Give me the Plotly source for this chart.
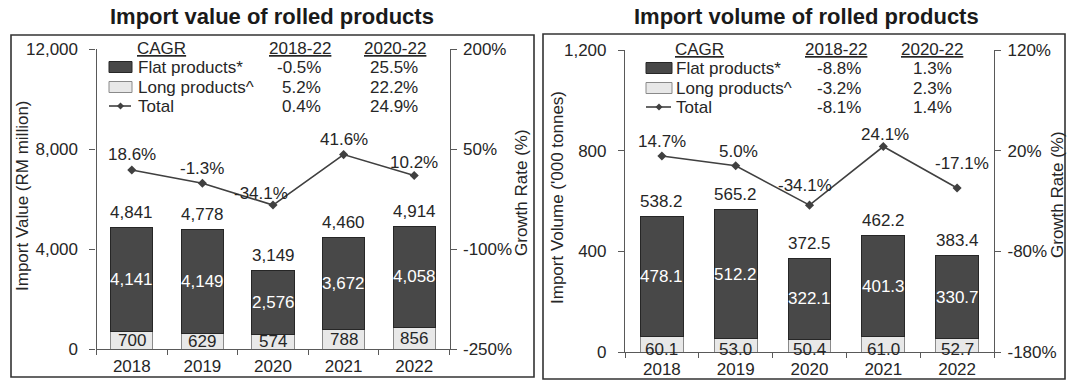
import plotly.graph_objects as go

# ---- data -------------------------------------------------------------
years = ["2018", "2019", "2020", "2021", "2022"]

value_flat = [4141, 4149, 2576, 3672, 4058]
value_long = [700, 629, 574, 788, 856]
value_total = [4841, 4778, 3149, 4460, 4914]
value_growth = [18.6, -1.3, -34.1, 41.6, 10.2]

volume_flat = [478.1, 512.2, 322.1, 401.3, 330.7]
volume_long = [60.1, 53.0, 50.4, 61.0, 52.7]
volume_total = [538.2, 565.2, 372.5, 462.2, 383.4]
volume_growth = [14.7, 5.0, -34.1, 24.1, -17.1]

cagr_periods = ["2018-22", "2020-22"]
cagr_rows = ["Flat products*", "Long products^", "Total"]
value_cagr = [["-0.5%", "25.5%"], ["5.2%", "22.2%"], ["0.4%", "24.9%"]]
volume_cagr = [["-8.8%", "1.3%"], ["-3.2%", "2.3%"], ["-8.1%", "1.4%"]]

value_ticks = [0, 4000, 8000, 12000]
value_growth_ticks = [-250, -100, 50, 200]
volume_ticks = [0, 400, 800, 1200]
volume_growth_ticks = [-180, -80, 20, 120]

# ---- style ------------------------------------------------------------
W, H = 1068, 381
FONT = "Liberation Sans, Arial, sans-serif"
TXT = "#262626"
AX = "#595959"
DARK = "#484848"
LIGHT = "#e8e8e8"
LINE = "#404040"
FS = 17


def px(x):
    return x / W


def py(y):
    return 1 - y / H


fig = go.Figure()
annotations = []
shapes = []


def note(**kw):
    kw.setdefault("showarrow", False)
    kw.setdefault("xanchor", "center")
    kw.setdefault("yanchor", "middle")
    kw.setdefault("font", dict(family=FONT, size=FS, color=TXT))
    annotations.append(kw)


def panel(n, flat, long_, total, growth, ticks, gticks, xdom, ybot, ytop,
          barw, ytitle, cagr, leg, long_inside, nudges, title, title_x,
          box, ytitle_x, gtitle_x, valfmt):
    xa = "xaxis" if n == 1 else "xaxis%d" % n
    ya_id = 2 * n - 1
    yb_id = 2 * n
    ya = "yaxis" if ya_id == 1 else "yaxis%d" % ya_id
    yb = "yaxis%d" % yb_id
    xr = "x" if n == 1 else "x%d" % n
    yr = "y" if ya_id == 1 else "y%d" % ya_id
    yr2 = "y%d" % yb_id
    pos = list(range(len(years)))

    fig.add_trace(go.Bar(x=pos, y=long_, xaxis=xr, yaxis=yr, width=barw,
                         marker=dict(color=LIGHT, line=dict(color="#8a8a8a", width=1)),
                         showlegend=False, hoverinfo="skip"))
    fig.add_trace(go.Bar(x=pos, y=flat, xaxis=xr, yaxis=yr, width=barw,
                         marker=dict(color=DARK, line=dict(color="#262626", width=1)),
                         showlegend=False, hoverinfo="skip"))
    fig.add_trace(go.Scatter(x=pos, y=growth, xaxis=xr, yaxis=yr2,
                             mode="lines+markers",
                             line=dict(color=LINE, width=1.6),
                             marker=dict(symbol="diamond", size=7, color=LINE),
                             showlegend=False, hoverinfo="skip"))

    axis_common = dict(showgrid=False, zeroline=False, showline=True,
                       linecolor=AX, linewidth=1.2, ticks="outside",
                       tickcolor=AX, tickwidth=1.2, automargin=False,
                       tickfont=dict(family=FONT, size=FS, color=TXT))
    bounds = [p - 0.5 for p in pos] + [pos[-1] + 0.5]
    fig.update_layout(**{
        xa: dict(axis_common, domain=xdom, anchor=yr, range=[-0.5, len(years) - 0.5],
                 tickvals=pos, ticktext=years, ticks="", ticklabelstandoff=1,
                 minor=dict(tickvals=bounds, ticks="outside", ticklen=5,
                            tickcolor=AX, tickwidth=1.2, showgrid=False)),
        ya: dict(axis_common, domain=[py(ybot), py(ytop)], anchor=xr,
                 range=[ticks[0], ticks[-1]], tickvals=ticks,
                 ticktext=[f"{t:,}" for t in ticks], ticklen=6, ticklabelstandoff=8),
        yb: dict(axis_common, overlaying=yr, side="right", anchor=xr,
                 range=[gticks[0], gticks[-1]], tickvals=gticks,
                 ticktext=[f"{t}%" for t in gticks], ticklen=6, ticklabelstandoff=3),
    })

    # value labels
    for i in pos:
        note(x=i, y=total[i], xref=xr, yref=yr, text=format(total[i], valfmt), yshift=15)
        note(x=i, y=long_[i] + flat[i] / 2, xref=xr, yref=yr,
             text=format(flat[i], valfmt), font=dict(family=FONT, size=FS, color="white"))
        if long_inside:
            note(x=i, y=long_[i] / 2, xref=xr, yref=yr, text=format(long_[i], valfmt))
        else:
            note(x=i, y=0, xref=xr, yref=yr, text=format(long_[i], valfmt), yshift=3)
        dx, dy = nudges.get(i, (0, 15))
        note(x=i, y=growth[i], xref=xr, yref=yr2, text=f"{growth[i]:.1f}%",
             xshift=dx, yshift=dy)

    # CAGR table
    sw_x0, sw_x1, txt_x, c1_mid, c1_r, c2_mid, c2_r, top = leg
    hdr_y = top - 1
    rows_y = [top + 18, top + 38, top + 57]
    note(x=px(txt_x - 1), y=py(hdr_y), xref="paper", yref="paper",
         xanchor="left", text="<u>CAGR</u>")
    for mid, p in zip([c1_mid, c2_mid], cagr_periods):
        note(x=px(mid), y=py(hdr_y), xref="paper", yref="paper", text=f"<u>{p}</u>")
    for r, (name, ry) in enumerate(zip(cagr_rows, rows_y)):
        note(x=px(txt_x), y=py(ry), xref="paper", yref="paper", xanchor="left", text=name)
        for c, right in enumerate([c1_r, c2_r]):
            note(x=px(right), y=py(ry), xref="paper", yref="paper",
                 xanchor="right", text=cagr[r][c])
    for (fill, edge), ry in zip([(DARK, "#262626"), (LIGHT, "#8a8a8a")], rows_y[:2]):
        shapes.append(dict(type="rect", xref="paper", yref="paper",
                           x0=px(sw_x0), x1=px(sw_x1), y0=py(ry - 5.5), y1=py(ry + 5.5),
                           fillcolor=fill, line=dict(color=edge, width=1)))
    ly = rows_y[2]
    shapes.append(dict(type="line", xref="paper", yref="paper",
                       x0=px(sw_x0), x1=px(sw_x1 - 1), y0=py(ly), y1=py(ly),
                       line=dict(color=LINE, width=1.6)))
    cx = (sw_x0 + sw_x1) / 2
    shapes.append(dict(type="path", xref="paper", yref="paper",
                       path=(f"M {px(cx - 3.5)},{py(ly)} L {px(cx)},{py(ly - 3.5)} "
                             f"L {px(cx + 3.5)},{py(ly)} L {px(cx)},{py(ly + 3.5)} Z"),
                       fillcolor=LINE, line=dict(color=LINE, width=0)))

    # titles, axis titles, frame
    note(x=px(title_x), y=py(17), xref="paper", yref="paper", text=f"<b>{title}</b>",
         font=dict(family=FONT, size=22, color="#1a1a1a"))
    mid_y = (ybot + ytop) / 2
    note(x=px(ytitle_x), y=py(mid_y - 3), xref="paper", yref="paper",
         text=ytitle, textangle=-90)
    note(x=px(gtitle_x), y=py(mid_y - 6), xref="paper", yref="paper",
         text="Growth Rate (%)", textangle=-90)
    bx0, by0, bx1, by1 = box
    shapes.append(dict(type="rect", xref="paper", yref="paper",
                       x0=px(bx0), x1=px(bx1), y0=py(by0), y1=py(by1),
                       line=dict(color="#333333", width=1.6)))


panel(1, value_flat, value_long, value_total, value_growth,
      value_ticks, value_growth_ticks,
      xdom=[px(96.5), px(449.5)], ybot=349, ytop=49, barw=0.6,
      ytitle="Import Value (RM million)", cagr=value_cagr,
      leg=(109, 132, 136, 299.5, 323, 395, 420, 49),
      long_inside=True, nudges={2: (-12, 12), 4: (0, 13.5)},
      title="Import value of rolled products", title_x=272,
      box=(11, 35, 534, 377), ytitle_x=22, gtitle_x=522, valfmt=",")

panel(2, volume_flat, volume_long, volume_total, volume_growth,
      volume_ticks, volume_growth_ticks,
      xdom=[px(625), px(994)], ybot=352, ytop=50, barw=0.58,
      ytitle="Import Volume ('000 tonnes)", cagr=volume_cagr,
      leg=(646, 672, 674, 836, 863, 932, 954, 50),
      long_inside=False, nudges={1: (3, 14), 2: (-5, 20), 3: (2, 12), 4: (5, 25)},
      title="Import volume of rolled products", title_x=806,
      box=(543, 34, 1065, 379), ytitle_x=557, gtitle_x=1057, valfmt=".1f")

fig.update_layout(
    width=W, height=H, margin=dict(l=0, r=0, t=0, b=0),
    paper_bgcolor="white", plot_bgcolor="rgba(0,0,0,0)",
    barmode="stack", showlegend=False,
    annotations=annotations, shapes=shapes,
    font=dict(family=FONT, size=FS, color=TXT),
)

fig.write_html("out.html")
